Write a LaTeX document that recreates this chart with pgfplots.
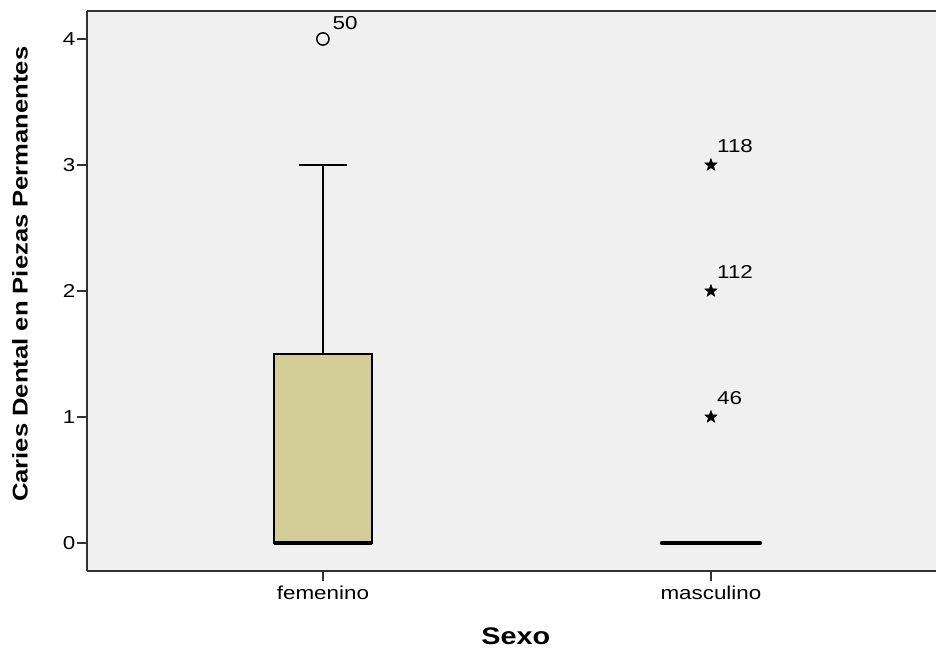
\documentclass[border=0pt]{standalone}
\usepackage{pgfplots}
\pgfplotsset{compat=1.18}
\usepgfplotslibrary{statistics}
\usepackage{fontspec}
\setmainfont{Liberation Sans}[FakeStretch=1.2]
\definecolor{plotbg}{RGB}{240,240,240}
\definecolor{boxfill}{RGB}{211,206,151}
\definecolor{axisgray}{RGB}{50,50,50}

\pgfdeclareplotmark{fstar}{%
  \pgfpathmoveto{\pgfpointpolar{90}{\pgfplotmarksize}}%
  \pgfpathlineto{\pgfpointpolar{126}{0.42\pgfplotmarksize}}%
  \pgfpathlineto{\pgfpointpolar{162}{\pgfplotmarksize}}%
  \pgfpathlineto{\pgfpointpolar{198}{0.42\pgfplotmarksize}}%
  \pgfpathlineto{\pgfpointpolar{234}{\pgfplotmarksize}}%
  \pgfpathlineto{\pgfpointpolar{270}{0.42\pgfplotmarksize}}%
  \pgfpathlineto{\pgfpointpolar{306}{\pgfplotmarksize}}%
  \pgfpathlineto{\pgfpointpolar{342}{0.42\pgfplotmarksize}}%
  \pgfpathlineto{\pgfpointpolar{18}{\pgfplotmarksize}}%
  \pgfpathlineto{\pgfpointpolar{54}{0.42\pgfplotmarksize}}%
  \pgfpathclose
  \pgfusepathqfillstroke}

\begin{document}
\begin{tikzpicture}
\begin{axis}[
  at={(65.25pt,60.75pt)}, anchor=south west,
  scale only axis, width=636.75pt, height=420pt,
  xmin=0.392, xmax=2.58, ymin=-0.222, ymax=4.222,
  axis background/.style={fill=plotbg},
  axis y line=left, axis x line=box,
  axis line style={axisgray, line width=1.6pt, -},
  tick align=outside,
  major tick length=7.5pt,
  tick style={axisgray, line width=1.3pt},
  xtick={1,2}, xticklabels={femenino,masculino},
  xtick pos=bottom,
  ytick={0,1,2,3,4},
  /pgf/number format/assume math mode=true,
  ticklabel style={font=\fontsize{14}{16}\selectfont},
  yticklabel style={inner sep=1pt},
  ylabel={\textbf{Caries Dental en Piezas Permanentes}},
  ylabel style={at={(axis description cs:-0.079,0.53)}, anchor=center, font=\fontsize{16}{18}\selectfont},
  xlabel={\textbf{Sexo}},
  xlabel style={at={(axis description cs:0.505,-0.116)}, anchor=center, font=\fontsize{18}{20}\selectfont},
  boxplot/draw direction=y,
  clip=false,
]
\addplot[black, boxplot prepared={draw position=1, median=0, lower quartile=0, upper quartile=1.5, lower whisker=0, upper whisker=3, box extend=0.2526, whisker extend=0.124,
  every box/.style={draw=black, fill=boxfill, line width=1.5pt},
  every whisker/.style={black, line width=1.5pt},
  every median/.style={black, line width=3pt}}] coordinates {};
\addplot[black, boxplot prepared={draw position=2, median=0, lower quartile=0, upper quartile=0, lower whisker=0, upper whisker=0, box extend=0.2526, whisker extend=0.124,
  every box/.style={draw=black, fill=boxfill, line width=1.5pt},
  every whisker/.style={black, line width=1.5pt},
  every median/.style={black, line width=3.2pt, line cap=round}}] coordinates {};
\addplot[only marks, mark=o, mark size=4.6pt, black, line width=1.1pt,
  nodes near coords, point meta=explicit symbolic,
  every node near coord/.append style={anchor=base west, inner sep=0pt, xshift=6.75pt, yshift=6.75pt, font=\fontsize{14}{16}\selectfont}]
  coordinates {(1,4) [50]};
\addplot[only marks, mark=fstar, mark size=4.8pt, black, line width=0.4pt,
  nodes near coords, point meta=explicit symbolic,
  every node near coord/.append style={anchor=base west, inner sep=0pt, xshift=4.5pt, yshift=9.5pt, font=\fontsize{14}{16}\selectfont}]
  coordinates {(2,1) [46] (2,2) [112] (2,3) [118]};
\end{axis}
\pgfresetboundingbox
\path (0,0) rectangle (702pt,489pt);
\end{tikzpicture}
\end{document}
